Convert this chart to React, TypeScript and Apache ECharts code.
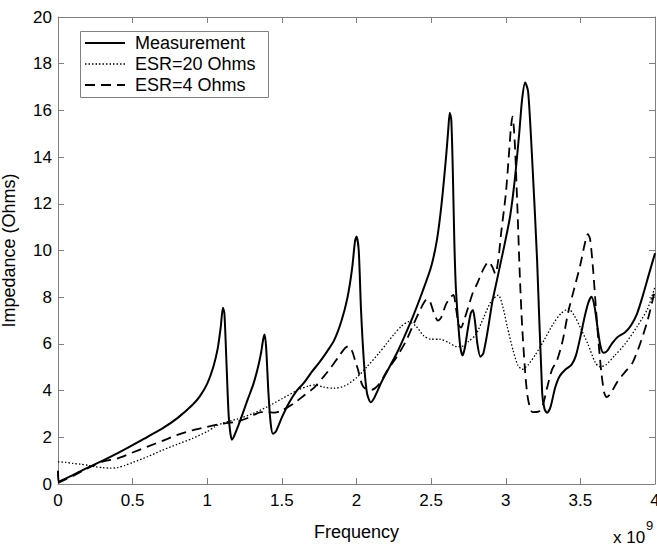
import React, { useEffect, useRef } from "react";
import * as echarts from "echarts";

// Frequency in units of 1e9 Hz, impedance in Ohms
const measFreq = [0, 0.005, 0.1, 0.2, 0.3, 0.4, 0.5, 0.6, 0.7, 0.8, 0.9, 0.95, 1.0, 1.04, 1.07, 1.09, 1.105, 1.115, 1.13, 1.145, 1.165, 1.18, 1.22, 1.27, 1.31, 1.34, 1.36, 1.375, 1.385, 1.395, 1.41, 1.425, 1.44, 1.46, 1.5, 1.55, 1.6, 1.65, 1.7, 1.75, 1.8, 1.85, 1.9, 1.94, 1.97, 1.99, 2.0, 2.015, 2.03, 2.05, 2.07, 2.095, 2.12, 2.17, 2.22, 2.27, 2.32, 2.38, 2.44, 2.5, 2.54, 2.57, 2.6, 2.615, 2.625, 2.635, 2.645, 2.655, 2.665, 2.68, 2.695, 2.71, 2.725, 2.745, 2.765, 2.78, 2.795, 2.81, 2.83, 2.85, 2.88, 2.91, 2.94, 2.97, 3.0, 3.03, 3.06, 3.09, 3.11, 3.13, 3.15, 3.177, 3.21, 3.244, 3.26, 3.277, 3.3, 3.33, 3.36, 3.4, 3.44, 3.47, 3.5, 3.53, 3.555, 3.575, 3.595, 3.615, 3.635, 3.655, 3.68, 3.71, 3.75, 3.8, 3.84, 3.88, 3.92, 3.96, 4.0];
const measImp = [0.57, 0.1, 0.38, 0.7, 1.0, 1.32, 1.66, 2.02, 2.38, 2.82, 3.38, 3.75, 4.3, 5.0, 5.8, 6.7, 7.55, 7.3, 5.0, 2.8, 1.9, 2.05, 2.7, 3.6, 4.3, 5.0, 5.6, 6.2, 6.4, 5.8, 3.9, 2.6, 2.15, 2.25, 2.85, 3.5, 4.0, 4.35, 4.8, 5.2, 5.65, 6.15, 7.0, 8.0, 9.2, 10.4, 10.6, 10.0, 7.5, 5.2, 3.9, 3.5, 3.7, 4.4, 5.0, 5.6, 6.3, 7.2, 8.2, 9.3, 10.5, 12.0, 14.0, 15.2, 15.9, 15.6, 13.5, 10.5, 8.5, 7.0, 5.9, 5.5, 5.8, 6.6, 7.3, 7.45, 6.9, 6.0, 5.45, 5.6, 6.6, 7.8, 8.7, 9.6, 10.5, 11.5, 13.0, 15.0, 16.5, 17.2, 16.8, 13.9, 9.6, 3.9, 3.2, 3.05, 3.3, 4.1, 4.6, 4.9, 5.1, 5.5, 6.3, 7.2, 7.8, 8.02, 7.6, 6.7, 5.9, 5.62, 5.7, 6.0, 6.3, 6.5, 6.8, 7.3, 8.1, 9.0, 9.88];

const esr20Freq = [0, 0.05, 0.1, 0.15, 0.2, 0.25, 0.3, 0.35, 0.4, 0.45, 0.5, 0.6, 0.7, 0.8, 0.9, 1.0, 1.05, 1.1, 1.2, 1.3, 1.4, 1.5, 1.6, 1.68, 1.72, 1.78, 1.85, 1.92, 2.0, 2.07, 2.15, 2.2, 2.25, 2.3, 2.35, 2.4, 2.45, 2.5, 2.56, 2.62, 2.67, 2.7, 2.75, 2.8, 2.85, 2.9, 2.95, 2.98, 3.01, 3.05, 3.08, 3.11, 3.15, 3.2, 3.26, 3.32, 3.37, 3.42, 3.46, 3.5, 3.55, 3.6, 3.63, 3.67, 3.73, 3.8, 3.88, 3.95, 4.0];
const esr20Imp = [0.95, 0.93, 0.88, 0.85, 0.8, 0.74, 0.7, 0.68, 0.7, 0.8, 0.92, 1.17, 1.45, 1.7, 1.95, 2.25, 2.45, 2.6, 2.78, 3.0, 3.3, 3.65, 4.0, 4.2, 4.24, 4.15, 4.1, 4.2, 4.55, 5.02, 5.6, 6.0, 6.4, 6.75, 6.95, 6.75, 6.35, 6.2, 6.2, 6.05, 5.88, 5.88, 6.1, 6.4, 7.1, 7.8, 8.09, 7.6, 6.74, 5.7, 5.1, 4.91, 5.1, 5.55, 6.2, 6.88, 7.3, 7.5, 7.2, 6.7, 6.0, 5.2, 5.02, 5.1, 5.5, 6.0, 6.74, 7.5, 8.45];

const esr4Freq = [0, 0.1, 0.2, 0.3, 0.4, 0.5, 0.6, 0.7, 0.8, 0.9, 1.0, 1.1, 1.2, 1.28, 1.36, 1.4, 1.45, 1.5, 1.58, 1.65, 1.72, 1.78, 1.83, 1.88, 1.92, 1.945, 1.97, 1.99, 2.01, 2.035, 2.055, 2.1, 2.155, 2.2, 2.27, 2.33, 2.385, 2.43, 2.47, 2.49, 2.52, 2.545, 2.565, 2.6, 2.63, 2.65, 2.665, 2.685, 2.7, 2.72, 2.75, 2.78, 2.81, 2.85, 2.885, 2.91, 2.93, 2.95, 2.97, 3.0, 3.02, 3.035, 3.045, 3.055, 3.065, 3.08, 3.095, 3.11, 3.13, 3.145, 3.165, 3.18, 3.22, 3.245, 3.28, 3.31, 3.344, 3.38, 3.42, 3.46, 3.5, 3.53, 3.55, 3.565, 3.585, 3.6, 3.62, 3.64, 3.66, 3.675, 3.7, 3.75, 3.8, 3.85, 3.9, 3.95, 4.0];
const esr4Imp = [0.05, 0.35, 0.68, 0.96, 1.1, 1.35, 1.6, 1.85, 2.1, 2.3, 2.45, 2.58, 2.67, 2.85, 3.08, 3.08, 3.06, 3.15, 3.45, 3.8, 4.15, 4.6, 5.0, 5.45, 5.8, 5.9, 5.7, 5.3, 4.9, 4.3, 4.1, 4.03, 4.3, 4.8, 5.45, 6.1, 6.88, 7.5, 7.9, 7.85, 7.3, 7.0, 7.1, 7.7, 8.0, 8.1, 7.6, 6.8, 6.7, 7.0, 7.6, 8.2, 8.6, 9.2, 9.52, 9.3, 9.0, 9.6, 10.8, 12.4, 14.0, 15.3, 15.73, 15.2, 14.0, 11.5, 8.8, 6.74, 4.8, 3.8, 3.2, 3.08, 3.1, 3.3, 4.2, 4.9, 5.3, 6.1, 7.4, 8.4, 9.4, 10.3, 10.7, 10.5, 9.2, 7.9, 6.2, 4.8, 3.9, 3.72, 3.85, 4.4, 4.8, 5.2, 6.0, 7.0, 8.3];

const legendNames = ["Measurement", "ESR=20 Ohms", "ESR=4 Ohms"];
const xTicks = { min: 0, max: 4, interval: 0.5 };
const yTicks = { min: 0, max: 20, interval: 2 };

const FONT = "'Liberation Sans', Arial, Helvetica, sans-serif";

function zip(xs: number[], ys: number[]) {
  return xs.map((x, i) => [x, ys[i]]);
}

export default function App() {
  const ref = useRef<HTMLDivElement>(null);
  useEffect(() => {
    if (!ref.current) return;
    const chart = echarts.init(ref.current, null, { renderer: "svg" });
    const axisLineStyle = { color: "#808080", width: 1 };
    const mkX = (pos: string, labels: boolean, extra: any = {}) => ({
      type: "value",
      position: pos,
      min: xTicks.min,
      max: xTicks.max,
      interval: xTicks.interval,
      axisLine: { show: true, onZero: false, lineStyle: axisLineStyle },
      axisTick: { show: true, inside: true, length: 6, lineStyle: axisLineStyle },
      axisLabel: {
        show: labels,
        color: "#000",
        fontSize: 17,
        fontFamily: FONT,
        margin: 8,
        showMaxLabel: true,
        showMinLabel: true,
      },
      splitLine: { show: false },
      ...extra,
    });
    const mkY = (pos: string, labels: boolean, extra: any = {}) => ({
      type: "value",
      position: pos,
      min: yTicks.min,
      max: yTicks.max,
      interval: yTicks.interval,
      axisLine: { show: true, onZero: false, lineStyle: axisLineStyle },
      axisTick: { show: true, inside: true, length: 6, lineStyle: axisLineStyle },
      axisLabel: {
        show: labels,
        color: "#000",
        fontSize: 17,
        fontFamily: FONT,
        margin: 6,
      },
      splitLine: { show: false },
      ...extra,
    });

    const legendX0 = 85;
    const legendX1 = 125;
    const legendYs = [43, 64, 85];
    const legendStyles = [
      { stroke: "#000", lineWidth: 2 },
      { stroke: "#000", lineWidth: 1.3, lineDash: [1.5, 2] },
      { stroke: "#000", lineWidth: 1.8, lineDash: [10, 6] },
    ];

    chart.setOption({
      animation: false,
      backgroundColor: "#fff",
      grid: {
        left: 58,
        right: 2,
        top: 17,
        bottom: 63,
        containLabel: false,
        outerBoundsMode: "none",
      },
      xAxis: [
        mkX("bottom", true, {
          name: "Frequency",
          nameLocation: "middle",
          nameGap: 39,
          nameTextStyle: { color: "#000", fontSize: 18, fontFamily: FONT },
        }),
        mkX("top", false),
      ],
      yAxis: [
        mkY("left", true, {
          name: "Impedance (Ohms)",
          nameLocation: "middle",
          nameGap: 40,
          nameTextStyle: { color: "#000", fontSize: 18, fontFamily: FONT },
        }),
        mkY("right", false),
      ],
      series: [
        {
          name: legendNames[0],
          type: "line",
          data: zip(measFreq, measImp),
          symbol: "none",
          smooth: 0.25,
          lineStyle: { color: "#000", width: 2 },
          xAxisIndex: 0,
          yAxisIndex: 0,
          z: 3,
        },
        {
          name: legendNames[1],
          type: "line",
          data: zip(esr20Freq, esr20Imp),
          symbol: "none",
          smooth: 0.25,
          lineStyle: { color: "#000", width: 1.3, type: [1.5, 2] },
          xAxisIndex: 0,
          yAxisIndex: 0,
          z: 2,
        },
        {
          name: legendNames[2],
          type: "line",
          data: zip(esr4Freq, esr4Imp),
          symbol: "none",
          smooth: 0.25,
          lineStyle: { color: "#000", width: 1.8, type: [10, 6] },
          xAxisIndex: 0,
          yAxisIndex: 0,
          z: 2,
        },
      ],
      graphic: [
        {
          type: "rect",
          shape: { x: 80.5, y: 31.5, width: 188, height: 66 },
          style: { fill: "#fff", stroke: "#808080", lineWidth: 1 },
          z: 10,
        },
        ...legendNames.flatMap((n, i) => [
          {
            type: "line",
            shape: { x1: legendX0, y1: legendYs[i], x2: legendX1, y2: legendYs[i] },
            style: legendStyles[i],
            z: 11,
          },
          {
            type: "text",
            x: 135,
            y: legendYs[i],
            style: {
              text: n,
              fill: "#000",
              font: `18px ${FONT}`,
              verticalAlign: "middle",
            },
            z: 11,
          },
        ]),
        {
          type: "text",
          x: 613,
          y: 537,
          style: {
            text: "x 10",
            fill: "#000",
            font: `17px ${FONT}`,
            verticalAlign: "middle",
          },
          z: 11,
        },
        {
          type: "text",
          x: 646,
          y: 525,
          style: {
            text: "9",
            fill: "#000",
            font: `13px ${FONT}`,
            verticalAlign: "middle",
          },
          z: 11,
        },
      ],
    });
    return () => chart.dispose();
  }, []);
  return (
    <div
      ref={ref}
      style={{ position: "fixed", left: 0, top: 0, width: 657, height: 547, background: "#fff" }}
    />
  );
}
